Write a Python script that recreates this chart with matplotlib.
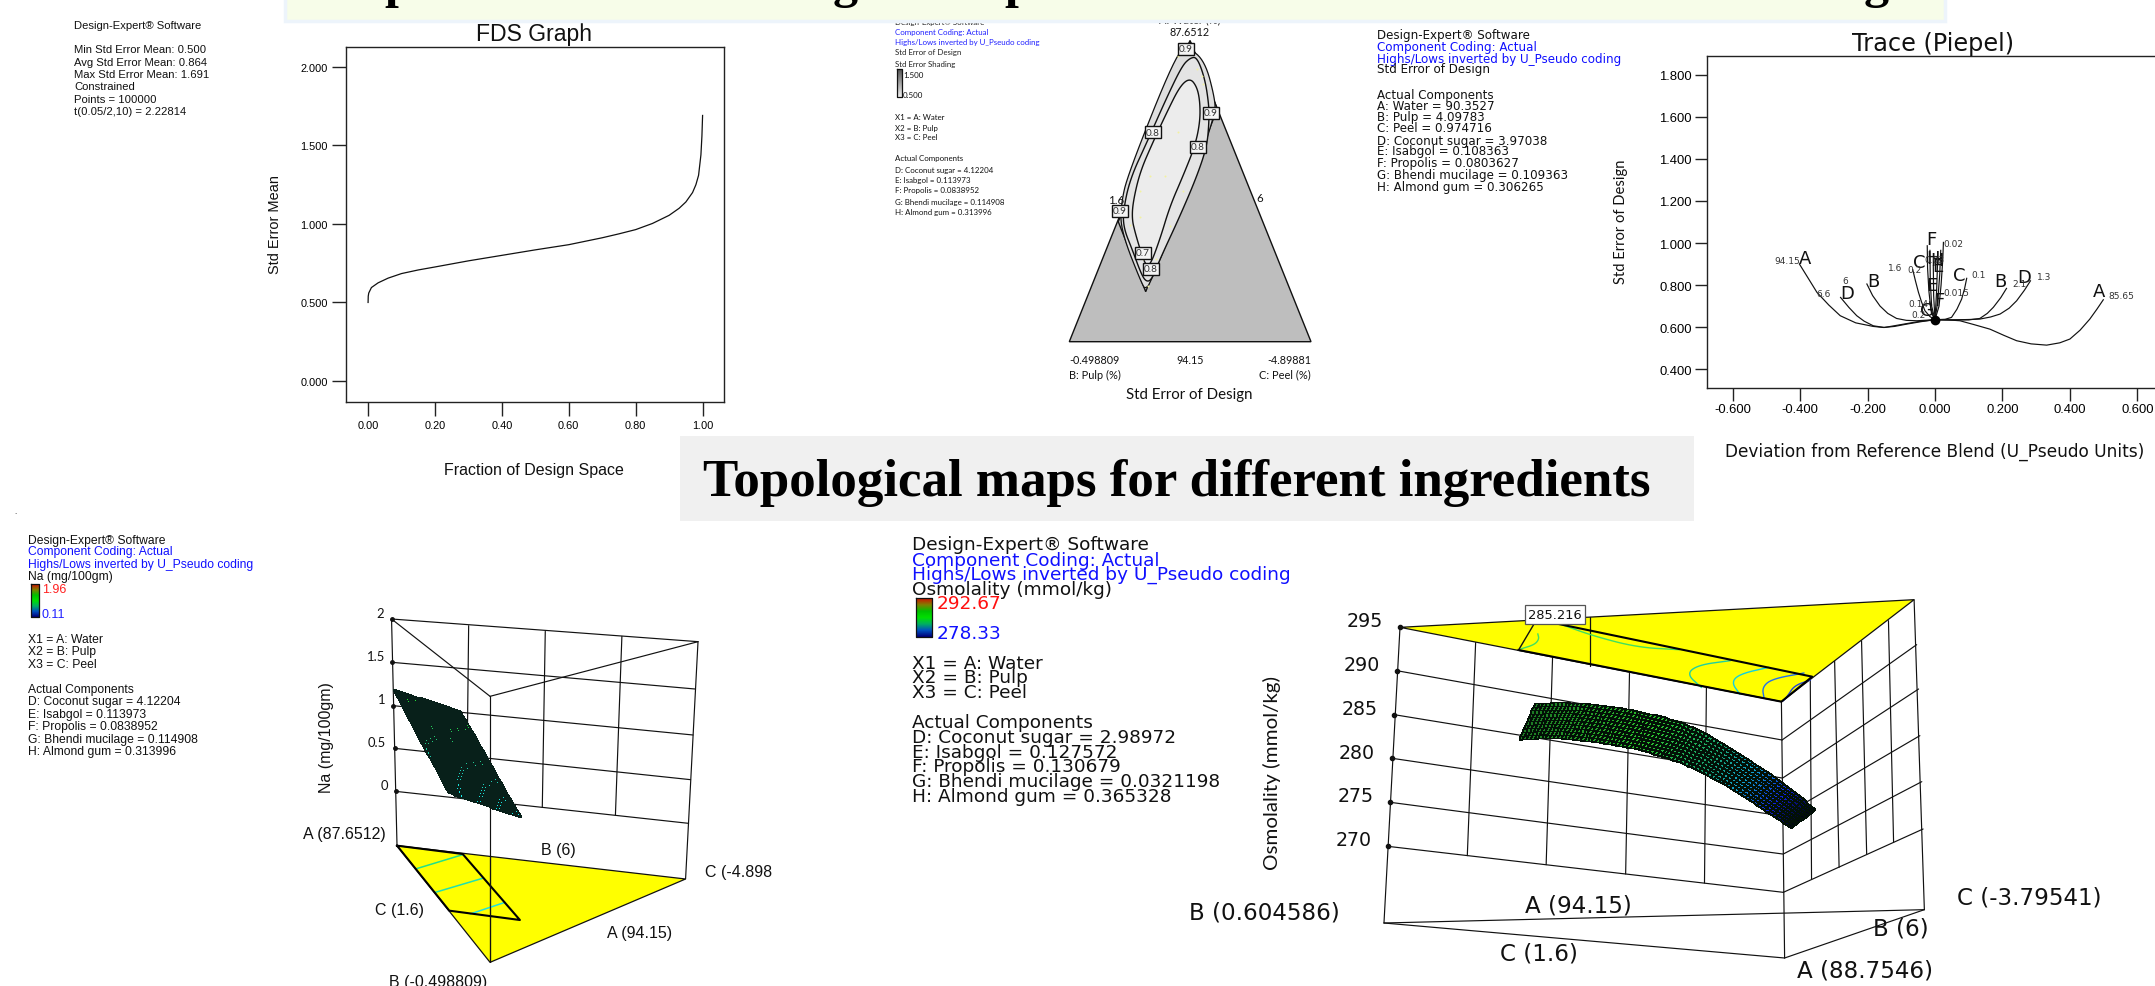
import numpy as np
import matplotlib
matplotlib.use("Agg")
import matplotlib.pyplot as plt
from matplotlib.colors import LinearSegmentedColormap

# ---------- data ----------
HEADING = "Topological maps for different ingredients"
FDS_X = [0, 0.0005, 0.002, 0.01, 0.03, 0.06, 0.1, 0.15, 0.2, 0.3, 0.4, 0.5, 0.6, 0.65, 0.7, 0.75, 0.8, 0.85, 0.9, 0.93, 0.95, 0.97, 0.98, 0.988, 0.995, 0.998, 1.0]
FDS_Y = [0.5, 0.54, 0.56, 0.595, 0.625, 0.655, 0.684, 0.707, 0.726, 0.765, 0.80, 0.835, 0.868, 0.89, 0.912, 0.937, 0.964, 1.003, 1.055, 1.10, 1.14, 1.20, 1.25, 1.31, 1.44, 1.56, 1.691]
FDS_LEGEND = ["Design-Expert® Software", "", "Min Std Error Mean: 0.500", "Avg Std Error Mean: 0.864",
              "Max Std Error Mean: 1.691", "Constrained", "Points = 100000", "t(0.05/2,10) = 2.22814"]
FDS_XT = [0, .2, .4, .6, .8, 1.0]
FDS_YT = [0, .5, 1, 1.5, 2]

TR_XT = [-.6, -.4, -.2, 0, .2, .4, .6]
TR_YT = [.4, .6, .8, 1, 1.2, 1.4, 1.6, 1.8]
TR_A_X = [-.402, -.375, -.35, -.315, -.281, -.235, -.183, -.153, -.12, -.084, -.04, 0, .04, .074, .115, .163, .205, .242, .285, .331, .37, .4, .43, .459, .48, .499]
TR_A_Y = [.90, .83, .765, .705, .654, .62, .603, .598, .603, .614, .626, .635, .634, .63, .612, .59, .56, .535, .52, .514, .525, .543, .585, .638, .685, .73]
TR_DL_X = [-.28, -.255, -.232, -.21, -.183, -.15, -.1, -.05, 0]
TR_DL_Y = [.741, .693, .654, .628, .606, .598, .612, .626, .635]
TR_DR_X = [0, .05, .1, .133, .165, .193, .22, .242, .265, .283]
TR_DR_Y = [.635, .634, .636, .638, .648, .662, .69, .725, .775, .82]
TR_BL_X = [-.202, -.185, -.163, -.14, -.114, -.085, -.054, 0]
TR_BL_Y = [.805, .75, .70, .665, .641, .632, .63, .635]
TR_BR_X = [0, .05, .1, .133, .155, .173, .195, .212]
TR_BR_Y = [.635, .634, .634, .641, .665, .694, .74, .784]
TR_CL_X = [-.066, -.058, -.049, -.04, -.03, -.015, 0]
TR_CL_Y = [.873, .82, .765, .72, .678, .65, .635]
TR_CR_X = [0, .03, .049, .065, .079, .088, .094]
TR_CR_Y = [.635, .637, .646, .685, .733, .785, .832]
TR_FL_X = [-.023, -.022, -.018, -.012, 0]
TR_FL_Y = [.987, .88, .77, .68, .635]
TR_FR_X = [0, .012, .018, .023, .025]
TR_FR_Y = [.635, .70, .80, .92, 1.003]
TR_HL_X = [-.015, -.014, -.01, 0]
TR_HL_Y = [.965, .82, .70, .635]
TR_HR_X = [0, .008, .014, .017]
TR_HR_Y = [.635, .72, .85, .965]
TR_EL_X = [-.005, -.004, 0]
TR_EL_Y = [.89, .75, .635]
TR_ER_X = [0, .005, .008]
TR_ER_Y = [.635, .78, .93]
TR_GL_X = [-.016, -.008, 0]
TR_GL_Y = [.72, .66, .635]
TR_LETTERS = [("A", -.385, .93), ("A", .485, .77), ("D", -.26, .76), ("D", .264, .84), ("B", -.184, .82), ("B", .194, .82),
              ("C", -.048, .91), ("C", .072, .85), ("F", -.01, 1.02), ("F", .014, .73), ("H", -.005, .93), ("H", .007, .92),
              ("E", -.01, .80), ("E", .009, .89), ("G", -.025, .68)]
TR_SMALL = [("94.15", -.437, .915), ("85.65", .553, .752), ("6.6", -.329, .76), ("6", -.265, .82), ("1.6", -.117, .885), ("0.2", -.06, .875),
            ("0.03", -.002, .92), ("0.02", .053, 1.0), ("0.1", .13, .85), ("1.3", .324, .84), ("2.1", .25, .805), ("0.015", .064, .765),
            ("0.14", -.048, .71), ("0.2", -.05, .66)]

TER_LEGEND = ["Design-Expert® Software", "Component Coding: Actual", "Highs/Lows inverted by U_Pseudo coding", "Std Error of Design", "Std Error Shading"]
TER_LEGEND2 = ["X1 = A: Water", "X2 = B: Pulp", "X3 = C: Peel", "", "Actual Components", "D: Coconut sugar = 4.12204", "E: Isabgol = 0.113973",
               "F: Propolis = 0.0838952", "G: Bhendi mucilage = 0.114908", "H: Almond gum = 0.313996"]
TOP_LEGEND = ["Design-Expert® Software", "Component Coding: Actual", "Highs/Lows inverted by U_Pseudo coding", "Std Error of Design", "",
              "Actual Components", "A: Water = 90.3527", "B: Pulp = 4.09783", "C: Peel = 0.974716", "D: Coconut sugar = 3.97038",
              "E: Isabgol = 0.108363", "F: Propolis = 0.0803627", "G: Bhendi mucilage = 0.109363", "H: Almond gum = 0.306265"]

# ternary shapes (x, y in the full picture)
TER_TRI = [(1190, 41.7), (1069.3, 342.7), (1311, 342.7)]
TER_REGION = [(1190, 41.7), (1217.3, 110), (1145.7, 292.7), (1118.3, 222.7)]
TER_C08_X = [1197, 1190, 1182, 1167, 1147, 1130, 1123, 1124, 1132, 1142, 1147, 1152, 1160, 1180, 1197, 1207, 1209, 1209, 1205]
TER_C08_Y = [58, 59, 67, 98, 143, 180, 213, 230, 250, 277, 283, 280, 260, 217, 177, 147, 123, 107, 80]
TER_C07_X = [1190, 1180, 1167, 1153, 1140, 1133, 1132, 1135, 1140, 1145, 1150, 1160, 1170, 1183, 1195, 1200, 1200, 1197]
TER_C07_Y = [79, 87, 113, 143, 173, 203, 220, 233, 250, 265, 267, 240, 207, 177, 147, 123, 103, 88]
TER_EDGE1_X = [1188, 1176, 1128, 1121, 1121, 1143, 1146, 1150, 1195, 1215, 1215, 1205]
TER_EDGE1_Y = [48, 55, 175, 205, 232, 288, 289, 285, 175, 115, 100, 62]
TER_TAGS = [("0.9", 1186, 50), ("0.9", 1211, 114), ("0.8", 1153, 133), ("0.8", 1198, 148), ("0.9", 1120, 212), ("0.7", 1143, 254), ("0.8", 1151, 270)]
TER_DOTS_X = [1178, 1197, 1202, 1178, 1150, 1165, 1140, 1140, 1130, 1203, 1183, 1170, 1156, 1143, 1148]
TER_DOTS_Y = [57, 70, 77, 133, 177, 177, 192, 218, 226, 85, 192, 227, 260, 260, 287]

NA_LEGEND = ["Design-Expert® Software", "Component Coding: Actual", "Highs/Lows inverted by U_Pseudo coding", "Na (mg/100gm)"]
NA_LEGEND2 = ["X1 = A: Water", "X2 = B: Pulp", "X3 = C: Peel", "", "Actual Components", "D: Coconut sugar = 4.12204", "E: Isabgol = 0.113973",
              "F: Propolis = 0.0838952", "G: Bhendi mucilage = 0.114908", "H: Almond gum = 0.313996"]
OS_LEGEND = ["Design-Expert® Software", "Component Coding: Actual", "Highs/Lows inverted by U_Pseudo coding", "Osmolality (mmol/kg)"]
OS_LEGEND2 = ["X1 = A: Water", "X2 = B: Pulp", "X3 = C: Peel", "", "Actual Components", "D: Coconut sugar = 2.98972", "E: Isabgol = 0.127572",
              "F: Propolis = 0.130679", "G: Bhendi mucilage = 0.0321198", "H: Almond gum = 0.365328"]

# Na 3-D panel geometry, in the units of a 2.01x / 3x crop of the panel
NA_LINES = [((787, 330), (1403, 398)), ((787, 330), (985, 562)), ((985, 562), (1403, 398)),
            ((787, 330), (798, 1010)), ((1403, 398), (1378, 1110)), ((985, 562), (985, 1360)),
            ((788, 460), (1397, 540)), ((790, 590), (1393, 678)), ((793, 718), (1388, 812)), ((795, 847), (1384, 943)),
            ((942, 350), (938, 870)), ((1096, 367), (1090, 895)), ((1250, 382), (1237, 918))]
NA_FLOOR = [(798, 1010), (1378, 1110), (985, 1360)]
NA_BOX = [(798, 1010), (930, 1035), (1045, 1233), (903, 1205), (798, 1010)]
NA_CONT = [((835, 1080), (930, 1037), "#22e08a"), ((875, 1150), (972, 1107), "#22e0b0"), ((945, 1215), (1015, 1180), "#22e0e0")]
NA_SURF = [(790, 540), (925, 605), (1047, 925), (900, 850)]
NA_TICKS = [("2", 764, 313, 330), ("1.5", 755, 441, 460), ("1", 768, 570, 590), ("0.5", 758, 699, 718), ("0", 772, 828, 847)]
NA_DOTX = [787, 788, 790, 793, 795]
NA_LABELS = [("A (87.6512)", 692, 975), ("B (6)", 1122, 1023), ("C (1.6)", 803, 1200), ("A (94.15)", 1285, 1270), ("B (-0.498809)", 880, 1418)]

# Osmolality 3-D panel geometry, in the units of a 1.56x / 3x crop
OS_FLOOR = [(390, 145), (1192, 62), (985, 368)]
OS_LINES = [((390, 145), (365, 1032)), ((985, 368), (990, 1137)), ((1192, 62), (1208, 992)),
            ((365, 1032), (990, 1137)), ((990, 1137), (1208, 992)), ((365, 1032), (1208, 992)),
            ((385, 275), (986, 483)), ((381, 407), (986, 597)), ((378, 538), (987, 711)), ((375, 670), (987, 825)), ((371, 802), (988, 940)),
            ((986, 483), (1196, 197)), ((987, 597), (1199, 330)), ((987, 711), (1201, 470)), ((988, 825), (1204, 608)), ((988, 940), (1206, 750)),
            ((508, 190), (495, 830)), ((628, 235), (618, 857)), ((748, 283), (742, 885)), ((868, 325), (865, 912)),
            ((1030, 295), (1032, 900)), ((1068, 245), (1075, 865)), ((1110, 185), (1118, 825)), ((1152, 125), (1160, 790))]
OS_YLINE = ((686, 115), (686, 262))
OS_BOX = [(630, 132), (1033, 293), (985, 368), (575, 213), (600, 132)]
OS_CONT = [([605, 607, 600, 578], [165, 180, 197, 210], "#40e060"),
           ([640, 690, 760, 825], [135, 170, 205, 212], "#40e060"),
           ([905, 855, 837, 860], [245, 258, 285, 325], "#20d0a0"),
           ([965, 920, 907, 920], [265, 285, 310, 345], "#10d0e0"),
           ([1020, 970, 955, 958], [282, 300, 325, 358], "#2070f0"),
           ([1030, 1005, 995, 988], [303, 320, 350, 365], "#2040e0")]
OS_UP_X = [600, 640, 680, 720, 760, 800, 830, 865, 900, 930, 960, 1000, 1038]
OS_UP_Y = [372, 370, 372, 382, 395, 413, 430, 462, 500, 537, 575, 630, 690]
OS_LO_X = [575, 610, 640, 670, 700, 730, 760, 790, 820, 850, 880, 910, 940, 970, 1000]
OS_LO_Y = [482, 477, 478, 483, 490, 500, 510, 527, 545, 570, 600, 632, 670, 708, 747]
OS_TICKS = [("295", 335, 125, 145, 390), ("290", 331, 257, 275, 385), ("285", 327, 389, 407, 381), ("280", 323, 521, 538, 378),
            ("275", 320, 651, 670, 375), ("270", 317, 782, 802, 371)]
OS_LABELS = [("B (0.604586)", 178, 1000), ("A (94.15)", 668, 978), ("C (-3.79541)", 1372, 955), ("B (6)", 1172, 1048), ("C (1.6)", 606, 1122), ("A (88.7546)", 1115, 1173)]

# ---------- helpers ----------
W, H, DPI = 2155, 987, 100
NARROW = ['Lato']
ARIAL = ['Liberation Sans']
WIDE = ['DejaVu Sans']
plt.rcParams['font.family'] = ARIAL
fig = plt.figure(figsize=(W / DPI, H / DPI), dpi=DPI, facecolor='white')
canvas = fig.add_axes([0, 0, 1, 1], zorder=5)
canvas.set_xlim(0, W); canvas.set_ylim(H, 0); canvas.axis('off'); canvas.patch.set_alpha(0)
canvas.set_autoscale_on(False)

def pt(px):
    return px * 72 / DPI

def T(x, y, s, px, fam=ARIAL, color='#111111', ha='left', va='center', rot=0, z=8, **kw):
    return canvas.text(x, y, s, fontsize=pt(px), family=fam, color=color, ha=ha, va=va, rotation=rot, zorder=z, **kw)

def rect_axes(l, r, t, b):
    return fig.add_axes([l / W, 1 - b / H, (r - l) / W, (b - t) / H])

def style(ax, lw=1.0, length=10):
    for s in ax.spines.values():
        s.set_linewidth(lw); s.set_color('#222222')
    ax.tick_params(length=length, width=1, color='#222222', pad=3)

def na(p):
    return (p[0] / 2.01, 510 + p[1] / 3)

def os3(p):
    return (1150 + p[0] / 1.56, 580 + p[1] / 3)

def line(p, q, lw=0.9, c='#111111', z=3):
    canvas.plot([p[0], q[0]], [p[1], q[1]], color=c, lw=lw, zorder=z, solid_capstyle='round')

def chaikin(xs, ys, closed=True, n=3):
    P = np.column_stack([xs, ys]).astype(float)
    for _ in range(n):
        Q = np.roll(P, -1, axis=0) if closed else P[1:]
        A = P if closed else P[:-1]
        R = np.empty((2 * len(A), 2))
        R[0::2] = .75 * A + .25 * Q
        R[1::2] = .25 * A + .75 * Q
        P = R if closed else np.vstack([P[0], R, P[-1]])
    return P[:, 0], P[:, 1]

def colorbar(l, r, t, b, cmap):
    canvas.imshow(np.linspace(1, 0, 60)[:, None], extent=[l, r, b, t], aspect='auto', cmap=cmap, zorder=4)
    canvas.plot([l, r, r, l, l], [t, t, b, b, t], color='#111111', lw=0.9, zorder=5)
    canvas.set_xlim(0, W); canvas.set_ylim(H, 0)

RGBD = LinearSegmentedColormap.from_list('rgbd', ['#00007a', '#0050c0', '#00b060', '#00e000', '#00c000', '#808000', '#d01000'])

# ---------- banners ----------
canvas.fill([285, 1945, 1945, 285], [-2, -2, 22, 22], facecolor='#F7FDE9', edgecolor='#EDF4FB', lw=2.5, zorder=7)
for ch, x in [("p", 398), ("g", 845), ("p", 1018), ("g", 1876)]:
    T(x, -3, ch, 50, fam=['Liberation Serif'], color='black', ha='center', va='baseline', z=7.5, fontweight='bold', clip_on=True)
canvas.fill([680, 1694, 1694, 680], [437, 437, 522, 522], facecolor='#F0F0F0', edgecolor='none', zorder=1)
T(1177, 483, HEADING, 53, fam=['Liberation Serif'], color='black', ha='center', fontweight='bold')

# ---------- FDS graph ----------
ax = rect_axes(346, 724, 48, 403)
ax.plot(FDS_X, FDS_Y, color='#111111', lw=0.9)
ax.set_xlim(-0.066, 1.064); ax.set_ylim(-0.134, 2.127)
ax.set_xticks(FDS_XT, [f"{v:.2f}" for v in FDS_XT]); ax.set_yticks(FDS_YT, [f"{v:.3f}" for v in FDS_YT])
style(ax)
ax.tick_params(labelsize=pt(11))
T(534, 35, "FDS Graph", 23, ha='center', z=6)
T(275, 224, "Std Error Mean", 14.5, ha='center', rot=90)
T(534, 470, "Fraction of Design Space", 16, ha='center')
for s, y in zip(FDS_LEGEND, [25.7, 38, 50, 62.5, 75, 87, 100, 112]):
    T(74, y, s, 11.3)

# ---------- trace ----------
ax = rect_axes(1707, 2163, 57, 389)
for xs, ys in [(TR_A_X, TR_A_Y), (TR_DL_X, TR_DL_Y), (TR_DR_X, TR_DR_Y), (TR_BL_X, TR_BL_Y), (TR_BR_X, TR_BR_Y), (TR_CL_X, TR_CL_Y),
               (TR_CR_X, TR_CR_Y), (TR_FL_X, TR_FL_Y), (TR_FR_X, TR_FR_Y), (TR_HL_X, TR_HL_Y), (TR_HR_X, TR_HR_Y), (TR_EL_X, TR_EL_Y),
               (TR_ER_X, TR_ER_Y), (TR_GL_X, TR_GL_Y)]:
    ax.plot(xs, ys, color='#111111', lw=0.85)
ax.plot([0], [.632], 'o', color='black', ms=6)
ax.set_xlim(-0.676, 0.676); ax.set_ylim(0.31, 1.89)
ax.set_xticks(TR_XT, [f"{v:.3f}" for v in TR_XT]); ax.set_yticks(TR_YT, [f"{v:.3f}" for v in TR_YT])
style(ax, length=9)
ax.tick_params(labelsize=pt(13), pad=2)
for s, x, y in TR_LETTERS:
    ax.text(x, y, s, fontsize=pt(18), family=WIDE, ha='center', va='center', color='#111111')
for s, x, y in TR_SMALL:
    ax.text(x, y, s, fontsize=pt(9), family=WIDE, ha='center', va='center', color='#333333')
T(1933, 44, "Trace (Piepel)", 24, fam=WIDE, ha='center', z=6)
T(1621, 222, "Std Error of Design", 14.7, fam=NARROW, ha='center', rot=90)
T(1935, 452, "Deviation from Reference Blend (U_Pseudo Units)", 17, fam=WIDE, ha='center')

# ---------- ternary ----------
canvas.fill(*zip(*TER_TRI), facecolor='#BEBEBE', edgecolor='#111111', lw=1.0, zorder=2)
canvas.fill(*zip(*TER_REGION), facecolor='#D2D2D2', edgecolor='#111111', lw=1.0, zorder=2.1)
canvas.fill(*chaikin(TER_EDGE1_X, TER_EDGE1_Y), facecolor='#DEDEDE', edgecolor='#111111', lw=0.9, zorder=2.2)
canvas.fill(*chaikin(TER_C08_X, TER_C08_Y), facecolor='#E4E4E4', edgecolor='#111111', lw=1.0, zorder=2.3)
canvas.fill(*chaikin(TER_C07_X, TER_C07_Y), facecolor='#ECECEC', edgecolor='#111111', lw=1.0, zorder=2.4)
canvas.scatter(TER_DOTS_X, TER_DOTS_Y, s=2, color='#F2F2A0', zorder=2.5, linewidths=0)
for s, x, y in TER_TAGS:
    T(x, y, s, 10, fam=NARROW, color='#333333', ha='center', z=4,
      bbox=dict(boxstyle='square,pad=0.15', fc='#F4F4F4', ec='#111111', lw=1.0))
T(1190, 20, "A: Water (%)", 11, fam=NARROW, ha='center', color='#222222', z=6)
T(1190, 32, "87.6512", 10.8, fam=NARROW, ha='center')
T(1116, 200, "1.6", 11.5, fam=NARROW, ha='center')
T(1260, 199, "6", 11.5, fam=NARROW, ha='center')
T(1069, 360, "-0.498809", 10.8, fam=NARROW)
T(1190, 360, "94.15", 10.8, fam=NARROW, ha='center')
T(1311, 360, "-4.89881", 10.8, fam=NARROW, ha='right')
T(1069, 375, "B: Pulp (%)", 11, fam=NARROW)
T(1311, 375, "C: Peel (%)", 11, fam=NARROW, ha='right')
T(1189, 395, "Std Error of Design", 15, fam=NARROW, ha='center')
for s, y, c in zip(TER_LEGEND, [22, 32, 43, 53, 64], ['#222222', '#2020ff', '#2020ff', '#222222', '#222222']):
    T(895, y, s, 7.9, fam=NARROW, color=c, z=6)
colorbar(897, 902, 70, 98, LinearSegmentedColormap.from_list('g', ['#f0f0f0', '#555555']))
T(903, 75, "1.500", 8, fam=NARROW); T(903, 96, "0.500", 8, fam=NARROW)
for s, y in zip(TER_LEGEND2, [117, 128, 138, 149, 159, 170, 181, 191, 202, 212]):
    T(895, y, s, 7.9, fam=NARROW)

# ---------- top-middle legend ----------
for s, y, c in zip(TOP_LEGEND, [35, 47.5, 59, 70, 82, 95, 106, 117, 129, 141, 152, 163, 176, 187],
                   ['#111111', '#1010ff', '#1010ff'] + ['#111111'] * 11):
    T(1377, y, s, 11.9, fam=WIDE, color=c)

# ---------- Na 3-D ----------
for p, q in NA_LINES:
    line(na(p), na(q), lw=0.85)
canvas.fill(*zip(*[na(p) for p in NA_FLOOR]), facecolor='#FFFF00', edgecolor='#111111', lw=0.9, zorder=2)
line(na((985, 1040)), na((985, 1360)), lw=0.85, z=2.2)
canvas.plot(*zip(*[na(p) for p in NA_BOX]), color='black', lw=1.5, zorder=2.4)
for p, q, c in NA_CONT:
    line(na(p), na(q), lw=1.1, c=c, z=2.3)
u = np.linspace(0, 1, 24); v = np.linspace(0, 1, 28)
UU, VV = np.meshgrid(u, v)
c00, c10, c11, c01 = [np.array(na(p)) for p in NA_SURF]
SX = (1 - UU) * (1 - VV) * c00[0] + UU * (1 - VV) * c10[0] + UU * VV * c11[0] + (1 - UU) * VV * c01[0]
SY = (1 - UU) * (1 - VV) * c00[1] + UU * (1 - VV) * c10[1] + UU * VV * c11[1] + (1 - UU) * VV * c01[1]
NA_CMAP = LinearSegmentedColormap.from_list('na', ['#18ecec', '#20c8b0', '#22c860', '#28e030'])
canvas.pcolormesh(SX, SY, 1 - VV[:-1, :-1], cmap=NA_CMAP, edgecolors='#08201a', linewidth=0.5, zorder=3.5, shading='flat')
canvas.set_xlim(0, W); canvas.set_ylim(H, 0)
for (s, x, y, yd), xd in zip(NA_TICKS, NA_DOTX):
    T(*na((x, y)), s, 13, fam=NARROW, ha='center')
    canvas.plot(*na((xd, yd)), 'o', color='#111111', ms=2.5, zorder=4)
T(326, 738, "Na (mg/100gm)", 16, ha='center', rot=90)
for s, x, y in NA_LABELS:
    T(*na((x, y)), s, 16, ha='center')
T(705, 873, "C (-4.898", 16)
T(14, 512, ".", 8)
for s, y, c in zip(NA_LEGEND, [540.7, 552, 565, 577], ['#111111', '#1010ff', '#1010ff', '#111111']):
    T(28, y, s, 12.1, color=c)
colorbar(31, 39, 585, 618, RGBD)
T(42, 590, "1.96", 12.5, color='#ff2020'); T(42, 615, "0.11", 12.5, color='#2020ff')
for s, y in zip(NA_LEGEND2, [640, 652, 665, 677, 690, 702, 715, 727, 740, 752]):
    T(28, y, s, 12.1)

# ---------- Osmolality 3-D ----------
for p, q in OS_LINES:
    line(os3(p), os3(q), lw=0.85)
canvas.fill(*zip(*[os3(p) for p in OS_FLOOR]), facecolor='#FFFF00', edgecolor='#111111', lw=0.9, zorder=3.1)
line(os3(OS_YLINE[0]), os3(OS_YLINE[1]), lw=0.9, z=3.2)
canvas.plot(*zip(*[os3(p) for p in OS_BOX[:4]]), color='black', lw=1.5, zorder=3.3)
line(os3(OS_BOX[3]), os3(OS_BOX[4]), lw=1.0, z=3.3)
for xs, ys, c in OS_CONT:
    cx, cy = chaikin(xs, ys, closed=False)
    P = [os3(p) for p in zip(cx, cy)]
    canvas.plot(*zip(*P), color=c, lw=1.0, zorder=3.25)
nu, nv = 72, 11
s = np.linspace(0, 1, nu)
ux = np.linspace(OS_UP_X[0], OS_UP_X[-1], nu); uy = np.interp(ux, OS_UP_X, OS_UP_Y)
lx = np.linspace(OS_LO_X[0], OS_LO_X[-1], nu); ly = np.interp(lx, OS_LO_X, OS_LO_Y)
w = np.linspace(0, 1, nv)[:, None]
OX = 1150 + (ux * (1 - w) + lx * w) / 1.56
OY = 580 + (uy * (1 - w) + ly * w) / 3
OS_CMAP = LinearSegmentedColormap.from_list('os', [(0, '#1d7a24'), (.45, '#2cc02c'), (.68, '#18a070'), (.8, '#10a0d0'), (.92, '#1020e0'), (1, '#000018')])
OC = np.repeat(np.linspace(0, 1, nu - 1)[None, :], nv - 1, axis=0)
canvas.pcolormesh(OX, OY, OC, cmap=OS_CMAP, edgecolors='#021006', linewidth=0.6, zorder=3.6, shading='flat')
canvas.set_xlim(0, W); canvas.set_ylim(H, 0)
for s_, x, y, yd, xd in OS_TICKS:
    T(*os3((x, y)), s_, 19, fam=WIDE, ha='center')
    canvas.plot(*os3((xd, yd)), 'o', color='#111111', ms=3, zorder=4)
T(1272, 773, "Osmolality (mmol/kg)", 20.5, fam=NARROW, ha='center', rot=90)
for s_, x, y in OS_LABELS:
    T(*os3((x, y)), s_, 23, fam=WIDE, ha='center')
T(*os3((632, 107)), "285.216", 13, fam=WIDE, ha='center', z=9,
  bbox=dict(boxstyle='square,pad=0.22', fc='white', ec='#555555', lw=0.9))
for s_, y, c in zip(OS_LEGEND, [545, 561, 575, 590], ['#111111', '#1010ff', '#1010ff', '#111111']):
    T(912, y, s_, 18.5, fam=WIDE, color=c)
colorbar(916, 932, 599, 638, RGBD)
T(937, 604, "292.67", 18.5, fam=WIDE, color='#ff1010'); T(937, 634, "278.33", 18.5, fam=WIDE, color='#1010ff')
for s_, y in zip(OS_LEGEND2, [664, 678, 693, 708, 723, 738, 753, 767, 782, 797]):
    T(912, y, s_, 18.5, fam=WIDE)

fig.savefig('out.png', dpi=DPI, facecolor='white')
